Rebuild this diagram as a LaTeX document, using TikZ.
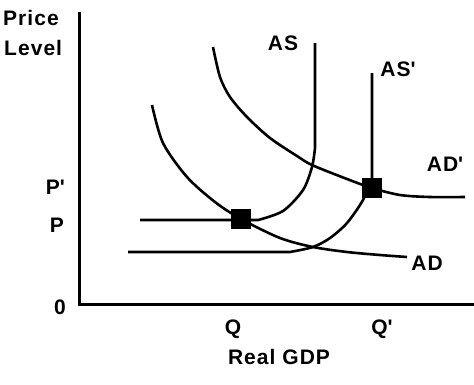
\documentclass[tikz,border=0pt]{standalone}
\usepackage{fontspec}
\setmainfont{Liberation Sans}[LetterSpace=5]

\begin{document}
\begin{tikzpicture}[x=1pt, y=-1pt,
    axis/.style={line width=3pt},
    curve/.style={line width=2.6pt, line join=round},
    eq/.style={rectangle, fill=black, minimum size=20pt, inner sep=0pt},
    lbl/.style={font=\fontsize{21}{25}\selectfont\bfseries, inner sep=0pt},
  ]
    \useasboundingbox (0,0) rectangle (474,384);

    % axes
    \coordinate (ytop) at (79,12);
    \coordinate (origin) at (79,304);
    \coordinate (xend) at (474,304);
    \draw[axis] (ytop) -- (origin) -- (xend);

    % axis labels
    \node[lbl, anchor=west] (price) at (3,18) {Price};
    \node[lbl, anchor=west] (level) at (4,48) {Level};
    \node[lbl, anchor=east] (pnew) at (65,187) {P\textquotesingle};
    \node[lbl, anchor=east] (pold) at (64,225) {P};
    \node[lbl, anchor=east] (zero) at (66,307) {0};
    \node[lbl] (qold) at (233,329) {Q};
    \node[lbl] (qnew) at (382,329) {Q\textquotesingle};
    \node[lbl] (gdp) at (279,357) {Real GDP};

    % supply curves
    \draw[curve] (140,220) -- (258,220) -- plot[smooth] coordinates {(258,220) (283,211) (303,190) (312,167) (315,148)} -- (315,43);
    \draw[curve] (128,252) -- (290,252) -- plot[smooth] coordinates {(290,252) (313,247) (330,238) (347,223) (363,200) (372,178)} -- (372,73);

    % demand curves
    \draw[curve] plot[smooth] coordinates {(152,105) (163,143) (187,177) (215,202) (241,219) (280,238) (313,247) (347,252) (380,255) (407,257)};
    \draw[curve] plot[smooth] coordinates {(213,47) (220,77) (230,97) (247,117) (270,138) (297,156) (312,165) (347,179) (372,188) (400,195) (430,197) (465,197)};

    % curve labels
    \node[lbl] (as) at (283,43) {AS};
    \node[lbl] (asnew) at (398,69) {AS\textquotesingle};
    \node[lbl] (adnew) at (445,164) {AD\textquotesingle};
    \node[lbl] (ad) at (427,263) {AD};

    % equilibria
    \node[eq] (e1) at (241,219) {};
    \node[eq] (e2) at (372,188) {};
  \end{tikzpicture}
\end{document}
